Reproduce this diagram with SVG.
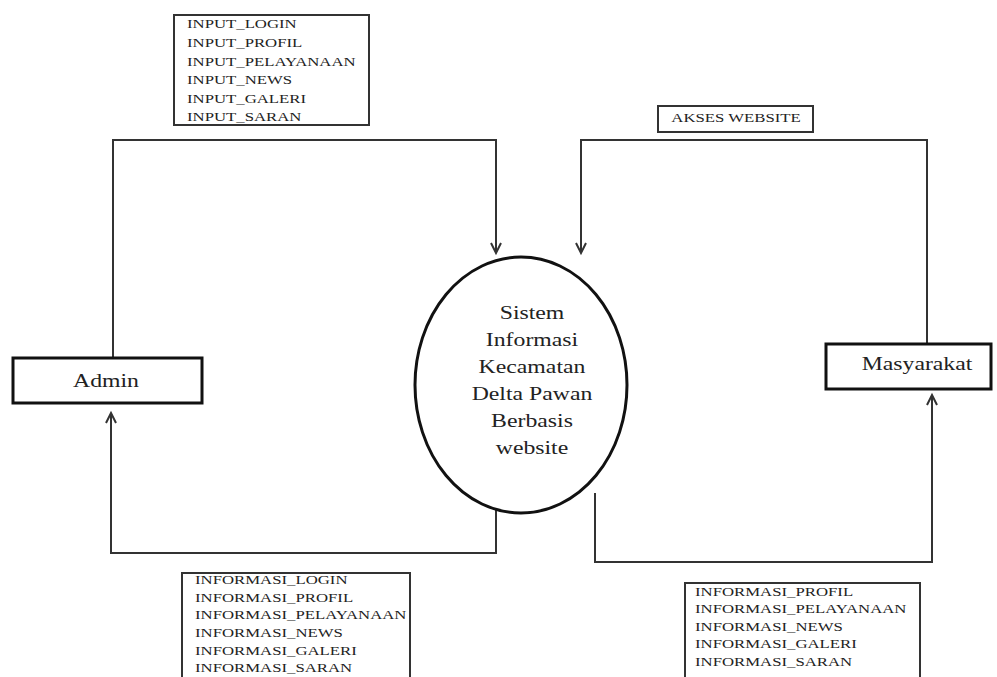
<svg xmlns="http://www.w3.org/2000/svg" width="997" height="677" viewBox="0 0 997 677">
  <style>
    .entity { fill: #fff; stroke: #111; stroke-width: 3; }
    .process { fill: #fff; stroke: #111; stroke-width: 3; }
    .flowbox { fill: #fff; stroke: #333; stroke-width: 2; }
    .flow { fill: none; stroke: #333; stroke-width: 2; }
    .big { font-family: "Liberation Serif", serif; font-size: 19px; fill: #222; }
    .small { font-family: "Liberation Serif", serif; font-size: 13.4px; fill: #222; }
  </style>
  <defs>
    <marker id="arrow" markerUnits="userSpaceOnUse" markerWidth="14" markerHeight="14" refX="11" refY="6" orient="auto">
      <path d="M1,1 L11,6 L1,11" fill="none" stroke="#333" stroke-width="2"/>
    </marker>
  </defs>

  <!-- data flows -->
  <g id="connectors">
    <path class="flow" d="M113,358 V140 H496 V253" marker-end="url(#arrow)"/>
    <path class="flow" d="M927,344 V140 H581 V253" marker-end="url(#arrow)"/>
    <path class="flow" d="M496,503 V553 H111 V413" marker-end="url(#arrow)"/>
    <path class="flow" d="M595,493 V562 H932 V395" marker-end="url(#arrow)"/>
  </g>

  <!-- flow labels -->
  <g id="label-input">
    <rect class="flowbox" x="174" y="15" width="195" height="110"/>
    <g transform="translate(187,0) scale(1.25,1)">
      <text class="small" x="0" y="28.5">INPUT_LOGIN</text>
      <text class="small" x="0" y="47">INPUT_PROFIL</text>
      <text class="small" x="0" y="65.7">INPUT_PELAYANAAN</text>
      <text class="small" x="0" y="84.3">INPUT_NEWS</text>
      <text class="small" x="0" y="102.9">INPUT_GALERI</text>
      <text class="small" x="0" y="121.5">INPUT_SARAN</text>
    </g>
  </g>

  <g id="label-akses">
    <rect class="flowbox" x="658" y="106" width="155" height="26"/>
    <g transform="translate(736,0) scale(1.25,1)">
      <text class="small" x="0" y="122" text-anchor="middle" font-size="12">AKSES WEBSITE</text>
    </g>
  </g>

  <g id="label-info-admin">
    <rect class="flowbox" x="182" y="573" width="228" height="110"/>
    <g transform="translate(195,0) scale(1.25,1)">
      <text class="small" x="0" y="584">INFORMASI_LOGIN</text>
      <text class="small" x="0" y="602">INFORMASI_PROFIL</text>
      <text class="small" x="0" y="619.5">INFORMASI_PELAYANAAN</text>
      <text class="small" x="0" y="637">INFORMASI_NEWS</text>
      <text class="small" x="0" y="655">INFORMASI_GALERI</text>
      <text class="small" x="0" y="672.5">INFORMASI_SARAN</text>
    </g>
  </g>

  <g id="label-info-masyarakat">
    <rect class="flowbox" x="685" y="583" width="235" height="100"/>
    <g transform="translate(695,0) scale(1.25,1)">
      <text class="small" x="0" y="596">INFORMASI_PROFIL</text>
      <text class="small" x="0" y="613.5">INFORMASI_PELAYANAAN</text>
      <text class="small" x="0" y="631">INFORMASI_NEWS</text>
      <text class="small" x="0" y="648.5">INFORMASI_GALERI</text>
      <text class="small" x="0" y="666">INFORMASI_SARAN</text>
    </g>
  </g>

  <!-- external entities -->
  <g id="admin">
    <rect class="entity" x="13" y="358" width="189" height="45"/>
    <g transform="translate(106,0) scale(1.25,1)">
      <text class="big" x="0" y="387" text-anchor="middle">Admin</text>
    </g>
  </g>

  <g id="masyarakat">
    <rect class="entity" x="826" y="344" width="165" height="45"/>
    <g transform="translate(917,0) scale(1.25,1)">
      <text class="big" x="0" y="370" text-anchor="middle">Masyarakat</text>
    </g>
  </g>

  <!-- process -->
  <g id="sistem">
    <ellipse class="process" cx="521" cy="385" rx="106" ry="128"/>
    <g transform="translate(532,0) scale(1.25,1)" text-anchor="middle">
      <text class="big" x="0" y="319">Sistem</text>
      <text class="big" x="0" y="346">Informasi</text>
      <text class="big" x="0" y="373">Kecamatan</text>
      <text class="big" x="0" y="400">Delta Pawan</text>
      <text class="big" x="0" y="427">Berbasis</text>
      <text class="big" x="0" y="454">website</text>
    </g>
  </g>
</svg>
